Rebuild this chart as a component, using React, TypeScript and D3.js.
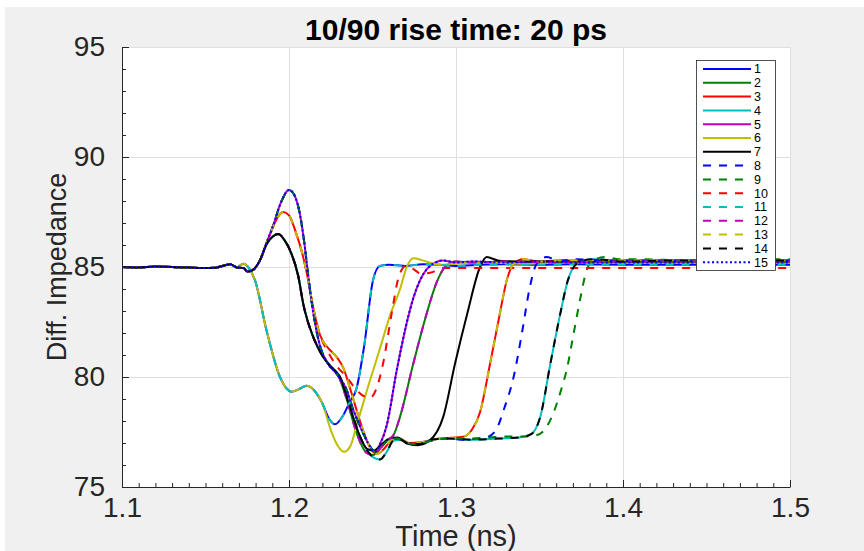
import { useEffect, useRef } from 'react';
import * as d3 from 'd3';

type Pt = [number, number];

// flat lead-in, same for every trace
const baseline: Pt[] = [
  [1.100, 85.0], [1.110, 84.98], [1.120, 85.02], [1.130, 85.0], [1.140, 84.98],
  [1.148, 84.95], [1.156, 84.97], [1.1647, 85.12], [1.1687, 84.98],
];

// first discontinuity, four families
const earlyA: Pt[] = [
  [1.1727, 85.15], [1.176, 84.95], [1.1796, 84.4], [1.1866, 82.1], [1.1946, 80.0],
  [1.2016, 79.33], [1.206, 79.45], [1.2106, 79.6], [1.215, 79.4], [1.22, 78.8],
];
const earlyB: Pt[] = [
  [1.1727, 84.95], [1.175, 84.8], [1.178, 84.85], [1.1826, 85.3], [1.1866, 86.1],
  [1.1906, 86.9], [1.195, 87.9], [1.2, 88.5], [1.203, 88.3], [1.206, 87.6],
  [1.209, 86.2], [1.2115, 84.6], [1.2146, 82.9], [1.2186, 81.4], [1.2235, 80.6],
  [1.229, 80.1], [1.234, 79.5], [1.2385, 78.5], [1.2435, 77.6], [1.2485, 76.85],
  [1.2515, 76.6],
];
const earlyC: Pt[] = [
  [1.1727, 84.95], [1.175, 84.8], [1.178, 84.85], [1.1826, 85.3], [1.1866, 86.1],
  [1.1906, 86.85], [1.1935, 87.3], [1.1965, 87.5], [1.2, 87.35], [1.204, 86.6],
  [1.208, 85.6], [1.211, 84.6], [1.2136, 83.5], [1.2186, 81.9],
];
const earlyD: Pt[] = [
  [1.1727, 84.95], [1.175, 84.8], [1.178, 84.85], [1.1826, 85.3], [1.1866, 86.05],
  [1.1905, 86.4], [1.1935, 86.5], [1.1975, 86.2], [1.2015, 85.6], [1.2055, 84.6],
  [1.2086, 83.3], [1.2146, 81.8], [1.2206, 80.9], [1.2246, 80.5],
];

// second part, one array per visible trace
const tailCyan: Pt[] = [
  [1.224, 78.1], [1.2275, 77.85], [1.232, 78.2], [1.236, 78.8], [1.2405, 79.5],
  [1.245, 81.4], [1.2503, 84.4], [1.2545, 85.05], [1.26, 85.1], [1.27, 85.05],
  [1.28, 85.12], [1.29, 85.1], [1.30, 85.05], [1.315, 85.1], [1.33, 85.12],
  [1.35, 85.1], [1.37, 85.12], [1.40, 85.1], [1.45, 85.1], [1.50, 85.1],
];
const tailYellow: Pt[] = [
  [1.225, 77.6], [1.229, 76.9], [1.233, 76.6], [1.237, 76.9], [1.2405, 77.8],
  [1.2475, 79.6], [1.2545, 81.3], [1.2605, 82.8], [1.2665, 84.0], [1.2705, 85.0],
  [1.2745, 85.4], [1.28, 85.3], [1.29, 85.1], [1.30, 85.15], [1.32, 85.2],
  [1.34, 85.15], [1.36, 85.2], [1.40, 85.2], [1.45, 85.2], [1.50, 85.2],
];
const tailBlue: Pt[] = [
  [1.2545, 76.95], [1.2585, 77.8], [1.2645, 80.3], [1.27, 82.3], [1.2745, 83.6],
  [1.2785, 84.4], [1.2825, 84.9], [1.2875, 85.2], [1.292, 85.3], [1.30, 85.2],
  [1.31, 85.25], [1.33, 85.2], [1.35, 85.25], [1.38, 85.2], [1.42, 85.2],
  [1.46, 85.2], [1.50, 85.2],
];
const tailBlueDash: Pt[] = [
  [1.255, 76.8], [1.26, 77.15], [1.265, 77.2], [1.27, 77.0], [1.277, 76.95],
  [1.285, 77.1], [1.295, 77.2], [1.305, 77.15], [1.312, 77.2], [1.318, 77.25],
  [1.324, 77.6], [1.329, 78.6], [1.3345, 80.0], [1.3395, 82.0], [1.344, 84.0],
  [1.348, 85.1], [1.354, 85.45], [1.362, 85.3], [1.372, 85.35], [1.39, 85.3],
  [1.42, 85.3], [1.46, 85.3], [1.50, 85.3],
];
const tailGreenDash: Pt[] = [
  [1.255, 76.8], [1.26, 77.15], [1.265, 77.2], [1.27, 77.0], [1.277, 76.95],
  [1.285, 77.1], [1.295, 77.2], [1.31, 77.2], [1.32, 77.25], [1.33, 77.3],
  [1.34, 77.3], [1.348, 77.35], [1.353, 77.6], [1.358, 78.3], [1.3625, 79.3],
  [1.3665, 80.4], [1.3705, 82.0], [1.3745, 83.6], [1.378, 84.8], [1.382, 85.3],
  [1.389, 85.45], [1.398, 85.35], [1.41, 85.35], [1.44, 85.3], [1.47, 85.35],
  [1.50, 85.35],
];
const tailRed: Pt[] = [
  [1.2236, 81.3], [1.2286, 80.9], [1.2326, 80.4], [1.2365, 79.5], [1.2425, 78.0],
  [1.2485, 76.8], [1.2525, 76.5], [1.2565, 76.7], [1.261, 77.1], [1.266, 77.2],
  [1.272, 77.0], [1.28, 77.05], [1.29, 77.2], [1.30, 77.25], [1.305, 77.3],
  [1.3095, 77.6], [1.3144, 78.4], [1.3204, 80.6], [1.3263, 82.9], [1.3304, 84.4],
  [1.3345, 85.15], [1.34, 85.35], [1.35, 85.25], [1.36, 85.3], [1.38, 85.3],
  [1.42, 85.3], [1.46, 85.3], [1.50, 85.3],
];
const tailRedDash: Pt[] = [
  [1.2236, 81.1], [1.2286, 80.5], [1.2345, 80.0], [1.2405, 79.4], [1.2455, 79.1],
  [1.2485, 79.05], [1.2525, 79.5], [1.2563, 80.6], [1.2615, 82.9], [1.2655, 84.5],
  [1.27, 85.05], [1.2745, 84.9], [1.279, 84.7], [1.285, 84.75], [1.292, 84.95],
  [1.30, 84.95], [1.32, 84.95], [1.35, 84.95], [1.40, 84.95], [1.45, 84.95],
  [1.50, 84.95],
];
const tailGreen: Pt[] = [
  [1.2286, 80.2], [1.2345, 79.0], [1.2405, 77.45], [1.2465, 76.55], [1.2505, 76.45],
  [1.2545, 76.75], [1.2585, 77.1], [1.2625, 77.35], [1.2665, 78.2], [1.2744, 80.6],
  [1.2825, 82.9], [1.2884, 84.3], [1.2934, 85.0], [1.30, 85.25], [1.31, 85.2],
  [1.33, 85.25], [1.36, 85.2], [1.40, 85.25], [1.45, 85.25], [1.50, 85.25],
];
const tailBlack: Pt[] = [
  [1.2305, 80.0], [1.2365, 78.6], [1.2425, 77.3], [1.2465, 76.75], [1.2505, 76.65],
  [1.255, 76.9], [1.26, 77.2], [1.265, 77.25], [1.27, 77.0], [1.277, 76.9],
  [1.284, 77.1], [1.2924, 78.2], [1.2994, 80.6], [1.3068, 82.9], [1.3144, 85.0],
  [1.3184, 85.45], [1.325, 85.3], [1.335, 85.25], [1.36, 85.25], [1.40, 85.25],
  [1.45, 85.25], [1.50, 85.25],
];
const tailBlackDash: Pt[] = [
  [1.2305, 80.0], [1.2365, 78.65], [1.2425, 77.3], [1.2465, 76.7], [1.2505, 76.35],
  [1.2545, 76.25], [1.2585, 76.6], [1.2625, 77.1], [1.267, 77.15], [1.272, 76.95],
  [1.278, 76.95], [1.285, 77.15], [1.295, 77.2], [1.31, 77.15], [1.325, 77.2],
  [1.338, 77.25], [1.345, 77.4], [1.3505, 78.2], [1.3565, 80.6], [1.3625, 82.9],
  [1.367, 84.4], [1.3705, 85.0], [1.376, 85.3], [1.383, 85.35], [1.40, 85.25],
  [1.43, 85.3], [1.46, 85.3], [1.50, 85.3],
];

const seriesNames = ['1', '2', '3', '4', '5', '6', '7', '8', '9', '10', '11', '12', '13', '14', '15'];
const seriesColors = [
  '#0000ff', '#008000', '#ff0000', '#00bfbf', '#bf00bf', '#bfbf00', '#000000',
  '#0000ff', '#008000', '#ff0000', '#00bfbf', '#bf00bf', '#bfbf00', '#000000', '#0000ff',
];
const seriesStyles = ['-', '-', '-', '-', '-', '-', '-', '--', '--', '--', '--', '--', '--', '--', ':'];
const seriesParts: Pt[][][] = [
  [baseline, earlyA, tailCyan],
  [baseline, earlyD, tailGreen],
  [baseline, earlyC, tailRed],
  [baseline, earlyD, tailBlackDash],
  [baseline, earlyB, tailBlue],
  [baseline, earlyA, tailYellow],
  [baseline, earlyD, tailBlack],
  [baseline, earlyB, tailBlueDash],
  [baseline, earlyB, tailGreenDash],
  [baseline, earlyC, tailRedDash],
  [baseline, earlyA, tailCyan],
  [baseline, earlyD, tailGreen],
  [baseline, earlyC, tailRed],
  [baseline, earlyD, tailBlackDash],
  [baseline, earlyB, tailBlue],
];

const xTicks = [1.1, 1.2, 1.3, 1.4, 1.5];
const yTicks = [75, 80, 85, 90, 95];

const dashFor = (s: string) => (s === '--' ? '8,8' : s === ':' ? '2,2.5' : null);

const App = () => {
  const ref = useRef<SVGSVGElement>(null);

  useEffect(() => {
    if (!ref.current) return;
    const svg = d3.select(ref.current);
    svg.selectAll('*').remove();

    const W = 864, H = 551;
    const left = 122, right = 790, top = 47, bottom = 487;
    const font = "'Liberation Sans', Arial, Helvetica, sans-serif";
    const axisCol = '#262626';

    svg.append('rect').attr('width', W).attr('height', H).attr('fill', '#ffffff');
    svg.append('rect').attr('x', 5).attr('y', 7).attr('width', W - 5).attr('height', H - 7).attr('fill', '#f0f0f0');
    svg.append('rect').attr('x', left).attr('y', top).attr('width', right - left).attr('height', bottom - top).attr('fill', '#ffffff');

    const x = d3.scaleLinear().domain([1.1, 1.5]).range([left, right]);
    const y = d3.scaleLinear().domain([75, 95]).range([bottom, top]);

    // grid
    const grid = svg.append('g').attr('stroke', '#dfdfdf').attr('stroke-width', 1);
    xTicks.slice(1).forEach(t => {
      grid.append('line').attr('x1', Math.round(x(t)) + 0.5).attr('x2', Math.round(x(t)) + 0.5)
        .attr('y1', top).attr('y2', bottom);
    });
    yTicks.slice(1).forEach(v => {
      grid.append('line').attr('y1', Math.round(y(v)) + 0.5).attr('y2', Math.round(y(v)) + 0.5)
        .attr('x1', left).attr('x2', right);
    });

    // traces
    svg.append('clipPath').attr('id', 'plotclip').append('rect')
      .attr('x', left).attr('y', top).attr('width', right - left).attr('height', bottom - top);
    const line = d3.line<Pt>().x(d => x(d[0])).y(d => y(d[1])).curve(d3.curveMonotoneX);
    const traces = svg.append('g').attr('clip-path', 'url(#plotclip)');
    seriesParts.forEach((parts, i) => {
      const pts = ([] as Pt[]).concat(...parts);
      traces.append('path').datum(pts)
        .attr('fill', 'none')
        .attr('stroke', seriesColors[i])
        .attr('stroke-width', 2)
        .attr('stroke-dasharray', dashFor(seriesStyles[i]))
        .attr('d', line);
    });

    // axes
    const minorX = d3.range(110, 151).map(v => v / 100).filter(v => Math.round(v * 100) % 10 !== 0);
    const minorY = d3.range(75, 96).filter(v => v % 5 !== 0);

    const gx = svg.append('g').attr('transform', `translate(0,${bottom})`)
      .call(d3.axisBottom(x).tickValues(xTicks).tickSize(-7).tickSizeOuter(0).tickPadding(10).tickFormat(d3.format('.1f')));
    svg.append('g').attr('transform', `translate(0,${bottom})`)
      .call(d3.axisBottom(x).tickValues(minorX).tickSize(-4).tickFormat(() => ''))
      .call(g => g.select('.domain').remove());
    const gy = svg.append('g').attr('transform', `translate(${left},0)`)
      .call(d3.axisLeft(y).tickValues(yTicks).tickSize(-7).tickSizeOuter(0).tickPadding(17));
    svg.append('g').attr('transform', `translate(${left},0)`)
      .call(d3.axisLeft(y).tickValues(minorY).tickSize(-4).tickFormat(() => ''))
      .call(g => g.select('.domain').remove());

    svg.selectAll('.domain').attr('stroke', axisCol);
    svg.selectAll('.tick line').attr('stroke', axisCol);
    [gx, gy].forEach(g => g.selectAll('text')
      .attr('fill', axisCol).style('font-family', font).style('font-size', '28px'));

    svg.append('text').attr('x', (left + right) / 2).attr('y', 546)
      .attr('text-anchor', 'middle').attr('fill', axisCol)
      .style('font-family', font).style('font-size', '29px')
      .text('Time (ns)');
    svg.append('text').attr('transform', `translate(66,${(top + bottom) / 2}) rotate(-90)`)
      .attr('text-anchor', 'middle').attr('fill', axisCol)
      .style('font-family', font).style('font-size', '27px')
      .text('Diff. Impedance');
    svg.append('text').attr('x', (left + right) / 2).attr('y', 40)
      .attr('text-anchor', 'middle').attr('fill', '#000')
      .style('font-family', font).style('font-size', '30px').style('font-weight', 'bold')
      .text('10/90 rise time: 20 ps');

    // legend
    const lx = 696, ly = 60, lw = 79, lh = 210, rowH = 13.8;
    const lg = svg.append('g');
    lg.append('rect').attr('x', lx + 0.5).attr('y', ly + 0.5).attr('width', lw).attr('height', lh)
      .attr('fill', '#ffffff').attr('stroke', axisCol).attr('stroke-width', 0.8);
    seriesNames.forEach((name, i) => {
      const ry = ly + 9 + i * rowH;
      lg.append('line').attr('x1', lx + 7).attr('x2', lx + 55).attr('y1', ry).attr('y2', ry)
        .attr('stroke', seriesColors[i]).attr('stroke-width', 2)
        .attr('stroke-dasharray', dashFor(seriesStyles[i]));
      lg.append('text').attr('x', lx + 58).attr('y', ry + 4.4)
        .attr('fill', '#000').style('font-family', font).style('font-size', '12.5px')
        .text(name);
    });
  }, []);

  return (
    <svg ref={ref} width={864} height={551} viewBox="0 0 864 551"
      style={{ position: 'absolute', left: 0, top: 0, display: 'block' }} />
  );
};

export default App;
